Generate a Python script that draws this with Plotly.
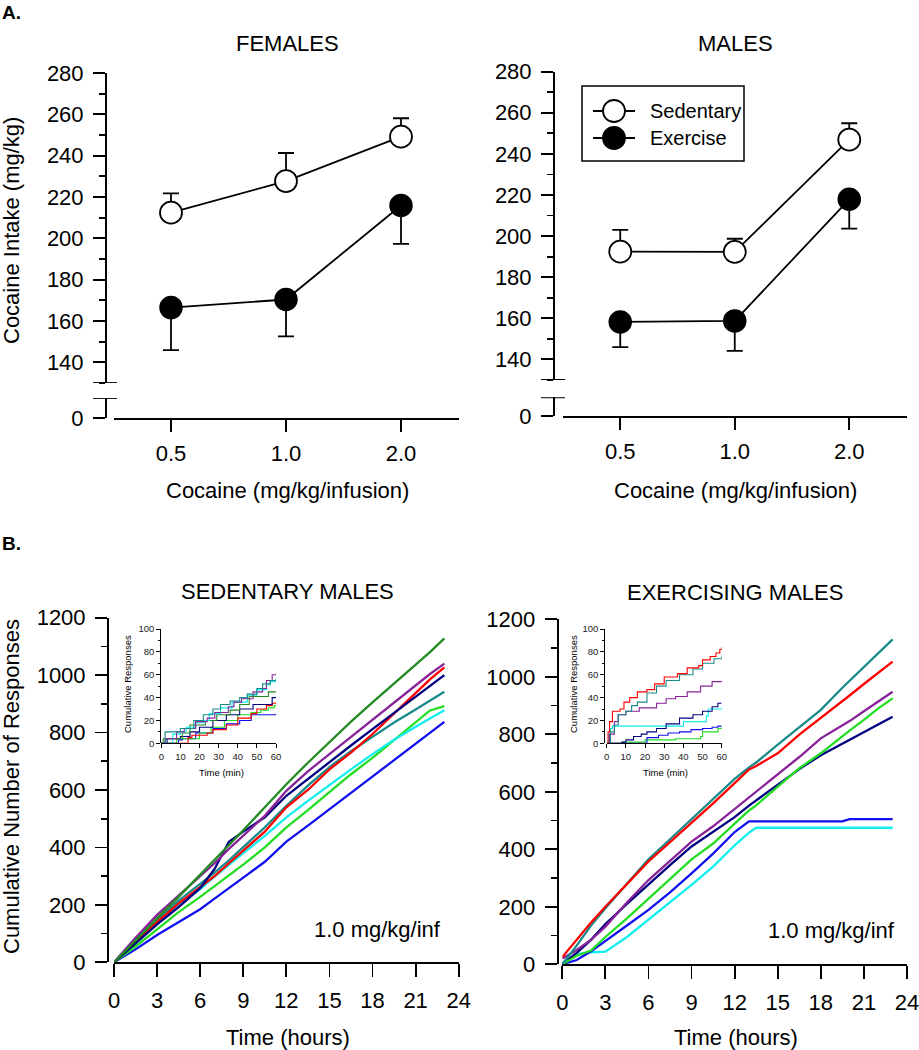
import plotly.graph_objects as go

W, H = 919, 1050
FONT = "Arial, Liberation Sans, Helvetica, sans-serif"

# ---------------- Panel A data ----------------
doses = ["0.5", "1.0", "2.0"]
fem_sed = [212.4, 227.7, 249.2]
fem_sed_err = [9.4, 13.6, 8.9]
fem_exe = [166.5, 170.4, 215.9]
fem_exe_err = [20.6, 17.8, 18.6]
male_sed = [192.4, 192.3, 246.9]
male_sed_err = [10.6, 6.4, 8.0]
male_exe = [158.2, 158.7, 217.9]
male_exe_err = [12.2, 14.6, 14.3]

# ---------------- Panel B data (cumulative responses) ----------------
sed_hours = [0, 1.5, 3, 4.5, 6, 7, 8, 9, 10.5, 12, 13.5, 15, 16.5, 18, 19.5, 21, 22, 23]
sed_darkgreen = [0, 78, 153, 228, 305, 355, 408, 460, 540, 620, 695, 768, 838, 905, 970, 1035, 1080, 1128]
sed_purple = [0, 85, 165, 232, 298, 345, 395, 440, 510, 597, 665, 725, 785, 845, 904, 964, 1004, 1040]
sed_navy = [0, 65, 132, 192, 258, 325, 420, 455, 505, 580, 639, 697, 755, 812, 869, 926, 964, 1000]
sed_red = [0, 70, 140, 205, 262, 300, 345, 390, 455, 540, 600, 672, 730, 795, 865, 935, 985, 1027]
sed_teal = [0, 75, 148, 215, 272, 312, 355, 400, 470, 545, 615, 680, 735, 785, 835, 880, 912, 942]
sed_cyan = [0, 70, 138, 198, 255, 298, 340, 380, 440, 505, 562, 618, 672, 725, 775, 820, 850, 878]
sed_lgreen = [0, 55, 115, 175, 228, 265, 300, 340, 400, 470, 530, 592, 655, 712, 775, 835, 877, 892]
sed_blue = [0, 45, 95, 140, 185, 222, 260, 295, 350, 420, 476, 533, 590, 647, 704, 761, 799, 837]

exe_hours = [0, 1, 2, 3, 4.5, 6, 7.5, 9, 10.5, 12, 13, 13.5, 15, 16.5, 18, 19.5, 20, 21, 22, 23]
exe_teal = [0, 65, 135, 195, 280, 365, 435, 505, 575, 645, 685, 702, 764, 826, 885, 962, 986, 1035, 1085, 1130]
exe_red = [25, 85, 145, 200, 280, 358, 425, 492, 560, 630, 678, 690, 734, 799, 856, 915, 935, 975, 1015, 1053]
exe_purple = [20, 50, 85, 131, 215, 293, 360, 427, 480, 540, 578, 598, 660, 721, 786, 829, 846, 880, 915, 948]
exe_navy = [0, 40, 85, 140, 210, 278, 345, 410, 462, 512, 552, 570, 625, 679, 727, 767, 780, 807, 835, 861]
exe_lgreen = [0, 30, 48, 95, 160, 228, 298, 365, 420, 490, 535, 553, 618, 682, 734, 795, 813, 850, 890, 925]
exe_blue = [0, 15, 45, 80, 135, 189, 250, 316, 385, 460, 497, 497, 497, 497, 497, 497, 505, 505, 505, 505]
exe_cyan = [5, 35, 42, 44, 95, 155, 215, 276, 340, 414, 458, 475, 475, 475, 475, 475, 475, 475, 475, 475]

# ---------------- Insets (first 60 min) ----------------
ins_sed_teal_t = [0, 2, 10, 17, 22, 27, 31, 36, 41, 45, 50, 53, 57, 60]
ins_sed_teal_v = [0, 10, 13, 20, 25, 30, 34, 37, 40, 43, 48, 52, 55, 56]
ins_sed_purple_t = [0, 2, 8, 12, 18, 24, 28, 35, 38, 42, 48, 53, 55, 58, 60]
ins_sed_purple_v = [0, 4, 10, 13, 19, 22, 27, 32, 36, 39, 45, 48, 55, 60, 61]
ins_sed_cyan_t = [0, 5, 6, 10, 13, 18, 22, 25, 31, 37, 45, 50, 55, 57, 60]
ins_sed_cyan_v = [0, 0, 8, 10, 14, 18, 20, 26, 31, 36, 42, 47, 51, 54, 57]
ins_sed_darkgreen_t = [0, 1, 11, 15, 23, 29, 36, 41, 46, 56, 60]
ins_sed_darkgreen_v = [0, 4, 9, 16, 20, 25, 29, 34, 41, 45, 45]
ins_sed_navy_t = [0, 3, 10, 15, 20, 27, 34, 41, 48, 58, 60]
ins_sed_navy_v = [0, 4, 6, 10, 14, 20, 25, 30, 34, 40, 40]
ins_sed_red_t = [0, 14, 16, 24, 27, 34, 40, 47, 50, 55, 58, 60]
ins_sed_red_v = [0, 5, 7, 9, 12, 16, 22, 26, 30, 33, 35, 36]
ins_sed_lgreen_t = [0, 8, 20, 26, 33, 40, 47, 52, 56, 59, 60]
ins_sed_lgreen_v = [0, 4, 9, 14, 20, 25, 27, 29, 31, 33, 33]
ins_sed_blue_t = [0, 9, 11, 18, 27, 34, 41, 47, 60]
ins_sed_blue_v = [0, 3, 4, 9, 13, 17, 20, 25, 26]

ins_exe_red_t = [0, 0.7, 1.5, 3, 7, 9, 12, 16, 21, 25, 30, 37, 42, 48, 50, 54, 57, 59, 60]
ins_exe_red_v = [0, 10, 19, 28, 30, 36, 40, 45, 47, 52, 58, 61, 66, 68, 73, 76, 79, 82, 84]
ins_exe_teal_t = [0, 2, 4, 6, 10, 13, 16, 21, 26, 31, 38, 45, 50, 56, 60]
ins_exe_teal_v = [0, 10, 16, 25, 28, 33, 36, 44, 50, 55, 60, 65, 70, 74, 76]
ins_exe_purple_t = [0, 1.5, 4, 6, 10, 17, 26, 31, 36, 42, 49, 55, 60]
ins_exe_purple_v = [0, 8, 19, 25, 28, 31, 35, 39, 41, 45, 50, 54, 55]
ins_exe_navy_t = [0, 8, 10, 14, 18, 21, 26, 31, 38, 45, 50, 55, 58, 60]
ins_exe_navy_v = [0, 1, 3, 6, 8, 10, 13, 17, 22, 25, 28, 32, 35, 35]
ins_exe_cyan_t = [0, 1, 2, 3, 39, 40, 52, 53, 60]
ins_exe_cyan_v = [0, 8, 13, 15, 15, 19, 24, 30, 31]
ins_exe_blue_t = [0, 20, 21, 27, 32, 38, 44, 50, 55, 58, 60]
ins_exe_blue_v = [0, 0, 5, 7, 9, 10, 12, 13, 14, 15, 15]
ins_exe_lgreen_t = [0, 8, 20, 36, 49, 50, 57, 58, 60]
ins_exe_lgreen_v = [0, 1, 3, 4, 6, 10, 10, 13, 14]

C = dict(darkgreen="#228B22", purple="#882299", red="#FF0000", navy="#000080",
         teal="#1A8A8A", lgreen="#22DD22", cyan="#11EEEE", blue="#1010F0")


def px(x):
    return x / W


def py(y):
    return 1 - y / H


fig = go.Figure()


def dose_traces(xa, ya, sed, sed_err, exe, exe_err):
    fig.add_trace(go.Scatter(
        x=doses, y=exe, xaxis=xa, yaxis=ya, mode="lines+markers", name="Exercise",
        line=dict(color="black", width=1.8),
        marker=dict(size=22, color="black", line=dict(color="black", width=1.5)),
        error_y=dict(type="data", symmetric=False, array=[0] * 3, arrayminus=exe_err,
                     color="black", thickness=1.8, width=8),
        showlegend=False, hoverinfo="skip"))
    fig.add_trace(go.Scatter(
        x=doses, y=sed, xaxis=xa, yaxis=ya, mode="lines+markers", name="Sedentary",
        line=dict(color="black", width=1.8),
        marker=dict(size=22, color="white", line=dict(color="black", width=1.8)),
        error_y=dict(type="data", symmetric=False, array=sed_err, arrayminus=[0] * 3,
                     color="black", thickness=1.8, width=8),
        showlegend=False, hoverinfo="skip"))


dose_traces("x", "y", fem_sed, fem_sed_err, fem_exe, fem_exe_err)
dose_traces("x3", "y3", male_sed, male_sed_err, male_exe, male_exe_err)
for xa, ya in (("x2", "y2"), ("x4", "y4")):
    fig.add_trace(go.Scatter(x=doses, y=[0, 0, 0], xaxis=xa, yaxis=ya, mode="markers",
                             marker=dict(opacity=0), showlegend=False, hoverinfo="skip"))

sed_series = [("teal", sed_teal), ("blue", sed_blue), ("lgreen", sed_lgreen), ("cyan", sed_cyan),
              ("red", sed_red), ("navy", sed_navy), ("purple", sed_purple), ("darkgreen", sed_darkgreen)]
for col, vals in sed_series:
    fig.add_trace(go.Scatter(x=sed_hours, y=vals, xaxis="x5", yaxis="y5", mode="lines",
                             line=dict(color=C[col], width=2.3), showlegend=False, hoverinfo="skip"))

exe_series = [("cyan", exe_cyan), ("blue", exe_blue), ("navy", exe_navy), ("lgreen", exe_lgreen),
              ("purple", exe_purple), ("teal", exe_teal), ("red", exe_red)]
for col, vals in exe_series:
    fig.add_trace(go.Scatter(x=exe_hours, y=vals, xaxis="x6", yaxis="y6", mode="lines",
                             line=dict(color=C[col], width=2.3), showlegend=False, hoverinfo="skip"))

ins_sed = [("blue", ins_sed_blue_t, ins_sed_blue_v), ("lgreen", ins_sed_lgreen_t, ins_sed_lgreen_v),
           ("red", ins_sed_red_t, ins_sed_red_v), ("navy", ins_sed_navy_t, ins_sed_navy_v),
           ("darkgreen", ins_sed_darkgreen_t, ins_sed_darkgreen_v), ("cyan", ins_sed_cyan_t, ins_sed_cyan_v),
           ("purple", ins_sed_purple_t, ins_sed_purple_v), ("teal", ins_sed_teal_t, ins_sed_teal_v)]
for col, t, v in ins_sed:
    fig.add_trace(go.Scatter(x=t, y=v, xaxis="x7", yaxis="y7", mode="lines", line_shape="hv",
                             line=dict(color=C[col], width=1.1), showlegend=False, hoverinfo="skip"))

ins_exe = [("lgreen", ins_exe_lgreen_t, ins_exe_lgreen_v), ("blue", ins_exe_blue_t, ins_exe_blue_v),
           ("cyan", ins_exe_cyan_t, ins_exe_cyan_v), ("navy", ins_exe_navy_t, ins_exe_navy_v),
           ("purple", ins_exe_purple_t, ins_exe_purple_v), ("teal", ins_exe_teal_t, ins_exe_teal_v),
           ("red", ins_exe_red_t, ins_exe_red_v)]
for col, t, v in ins_exe:
    fig.add_trace(go.Scatter(x=t, y=v, xaxis="x8", yaxis="y8", mode="lines", line_shape="hv",
                             line=dict(color=C[col], width=1.1), showlegend=False, hoverinfo="skip"))


def ax(**kw):
    base = dict(showline=True, linecolor="black", linewidth=1.8, ticks="outside",
                tickcolor="black", tickwidth=1.8, showgrid=False, zeroline=False, automargin=False,
                tickfont=dict(size=22, color="black", family=FONT), fixedrange=True,
                ticklabeloverflow="allow")
    base.update(kw)
    return base


def small_ax(**kw):
    base = dict(showline=True, linecolor="black", linewidth=1, ticks="outside",
                tickcolor="black", tickwidth=1, ticklen=4, showgrid=False, zeroline=False, automargin=False,
                tickfont=dict(size=9.5, color="#222", family=FONT), fixedrange=True)
    base.update(kw)
    return base


cat = dict(type="category", categoryorder="array", categoryarray=doses, range=[-0.5, 2.5])
yminor = dict(dtick=10, ticklen=6, tickwidth=1.8, ticks="outside", tickcolor="black", showgrid=False)
bminor = dict(dtick=100, ticklen=6, tickwidth=1.8, ticks="outside", tickcolor="black", showgrid=False)
iminor = dict(dtick=10, ticklen=2.5, tickwidth=1, ticks="outside", tickcolor="black", showgrid=False)

layout_axes = dict(
    xaxis=dict(domain=[px(113.5), px(458.5)], anchor="y", visible=False, automargin=False, **cat),
    yaxis=ax(domain=[py(383), py(73)], range=[130, 280], anchor="free", position=px(105),
             tick0=0, dtick=20, ticklen=12, minor=yminor, ticklabelstandoff=5),
    xaxis2=ax(domain=[px(113.5), px(458.5)], anchor="y2", ticklen=12, ticklabelstandoff=3, **cat),
    yaxis2=ax(domain=[py(418), py(398)], range=[0, 10], anchor="free", position=px(105),
              tickvals=[0], ticktext=["0"], ticklen=12, ticklabelstandoff=5),
    xaxis3=dict(domain=[px(563), px(906.5)], anchor="y3", visible=False, automargin=False, **cat),
    yaxis3=ax(domain=[py(379.9), py(71.7)], range=[130, 280], anchor="free", position=px(553),
              tick0=0, dtick=20, ticklen=12, minor=yminor, ticklabelstandoff=5),
    xaxis4=ax(domain=[px(563), px(906.5)], anchor="y4", ticklen=12, ticklabelstandoff=3, **cat),
    yaxis4=ax(domain=[py(416), py(397.3)], range=[0, 10], anchor="free", position=px(553),
              tickvals=[0], ticktext=["0"], ticklen=12, ticklabelstandoff=5),
    xaxis5=ax(domain=[px(114), px(458.7)], anchor="y5", range=[0, 24], dtick=3, tick0=0,
              ticklen=13, ticklabelstandoff=4),
    yaxis5=ax(domain=[py(962.3), py(617.7)], range=[0, 1200], anchor="free", position=px(107),
              dtick=200, tick0=0, ticklen=12, ticklabelstandoff=5, minor=bminor),
    xaxis6=ax(domain=[px(562.3), px(907)], anchor="y6", range=[0, 24], dtick=3, tick0=0,
              ticklen=13, ticklabelstandoff=4),
    yaxis6=ax(domain=[py(964.3), py(619.3)], range=[0, 1200], anchor="free", position=px(556.7),
              dtick=200, tick0=0, ticklen=12, ticklabelstandoff=5, minor=bminor),
    xaxis7=small_ax(domain=[px(161.3), px(276)], anchor="y7", range=[0, 60], dtick=10, tick0=0),
    yaxis7=small_ax(domain=[py(743.3), py(629)], anchor="free", position=px(160.3), range=[0, 100],
                    dtick=20, tick0=0, minor=iminor),
    xaxis8=small_ax(domain=[px(606.7), px(721.7)], anchor="y8", range=[0, 60], dtick=10, tick0=0),
    yaxis8=small_ax(domain=[py(743.3), py(629)], anchor="free", position=px(604.3), range=[0, 100],
                    dtick=20, tick0=0, minor=iminor),
)


def ann(text, x, y, size=22, angle=0, xanchor="center", bold=False):
    return dict(text=("<b>%s</b>" % text) if bold else text, x=px(x), y=py(y), xref="paper",
                yref="paper", showarrow=False, xanchor=xanchor, yanchor="middle", textangle=angle,
                font=dict(size=size, color="black", family=FONT))


annotations = [
    ann("A.", 0, 12, size=19, xanchor="left", bold=True),
    ann("B.", 0, 543, size=19, xanchor="left", bold=True),
    ann("FEMALES", 287, 43),
    ann("MALES", 735, 43),
    ann("Cocaine Intake (mg/kg)", 12, 231, angle=-90),
    ann("Cocaine (mg/kg/infusion)", 287, 490),
    ann("Cocaine (mg/kg/infusion)", 735, 490),
    ann("SEDENTARY MALES", 287, 591),
    ann("EXERCISING MALES", 735, 592),
    ann("Cumulative Number of Responses", 11, 787, angle=-90),
    ann("Time (hours)", 288, 1037),
    ann("Time (hours)", 736, 1037),
    ann("1.0 mg/kg/inf", 443, 929, xanchor="right"),
    ann("1.0 mg/kg/inf", 897, 930, xanchor="right"),
    ann("Cumulative Responses", 127, 684, size=9.5, angle=-90),
    ann("Time (min)", 221, 772, size=9.5),
    ann("Cumulative Responses", 573, 684, size=9.5, angle=-90),
    ann("Time (min)", 665, 772, size=9.5),
    ann("Sedentary", 648, 111, size=20, xanchor="left"),
    ann("Exercise", 648, 138, size=20, xanchor="left"),
]

shapes = []
for xc, ya_up, ya_lo in ((105, "y", "y2"), (553, "y3", "y4")):
    shapes.append(dict(type="line", xref="paper", yref=ya_up, x0=px(xc - 12), x1=px(xc + 12),
                       y0=130, y1=130, line=dict(color="black", width=1.8)))
    shapes.append(dict(type="line", xref="paper", yref=ya_lo, x0=px(xc - 12), x1=px(xc + 12),
                       y0=10, y1=10, line=dict(color="black", width=1.8)))

shapes.append(dict(type="rect", xref="paper", yref="paper", x0=px(582), x1=px(744), y0=py(161), y1=py(86),
                   line=dict(color="black", width=1.5), fillcolor="rgba(0,0,0,0)"))
for yy, fill in ((111, "white"), (138, "black")):
    shapes.append(dict(type="line", xref="paper", yref="paper", x0=px(593), x1=px(635), y0=py(yy), y1=py(yy),
                       line=dict(color="black", width=1.8)))
    shapes.append(dict(type="circle", xref="paper", yref="paper", x0=px(614 - 11), x1=px(614 + 11),
                       y0=py(yy + 11), y1=py(yy - 11), fillcolor=fill, line=dict(color="black", width=1.8)))

fig.update_layout(
    width=W, height=H, margin=dict(l=0, r=0, t=0, b=0, pad=0, autoexpand=False),
    paper_bgcolor="white", plot_bgcolor="white", showlegend=False, hovermode=False,
    font=dict(family=FONT, color="black"),
    annotations=annotations, shapes=shapes, **layout_axes)

fig.write_html("out.html", config={"displayModeBar": False, "staticPlot": True},
               post_script="document.body.style.margin='0';document.body.style.overflow='hidden';")
